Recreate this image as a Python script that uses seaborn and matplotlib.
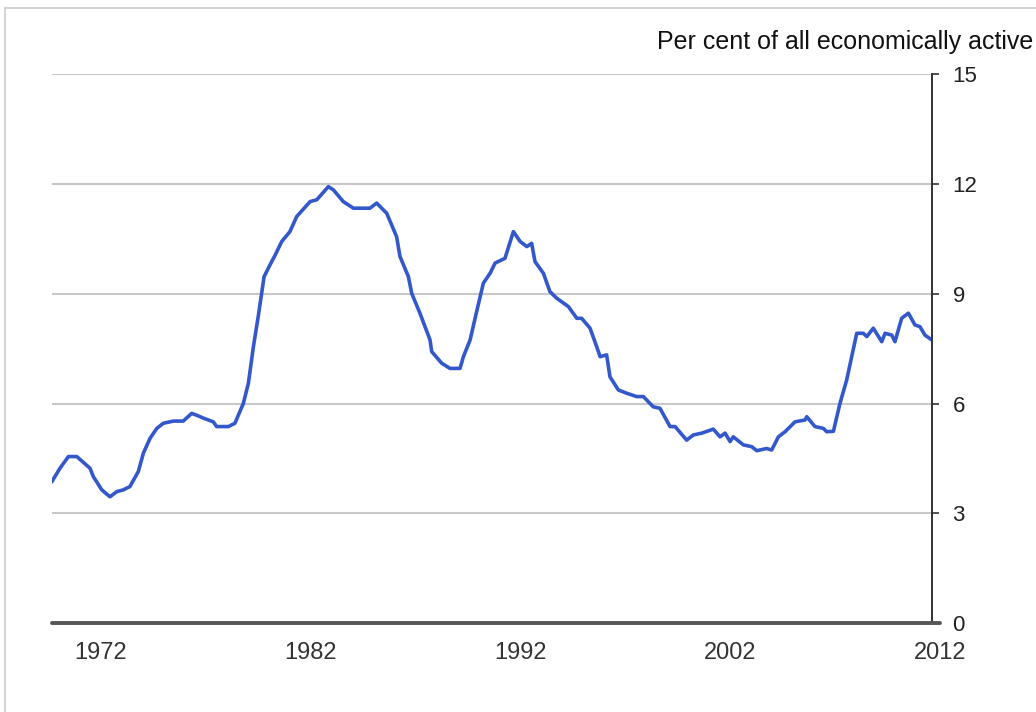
import pandas as pd
import matplotlib.pyplot as plt
import seaborn as sns
from matplotlib.lines import Line2D

# Seaborn style first, fonts after (set_theme resets font.family)
sns.set_theme(style="white")
plt.rcParams['font.family'] = ['Liberation Sans', 'DejaVu Sans']

# Unemployment rate (x in the chart's own year scale)
years = [1969.68, 1970.07, 1970.47, 1970.87, 1971.50, 1971.66, 1972.06, 1972.45, 1972.77, 1973.09,
         1973.40, 1973.80, 1974.04, 1974.36, 1974.68, 1974.99, 1975.47, 1975.94, 1976.34, 1976.58,
         1976.90, 1977.37, 1977.53, 1978.09, 1978.40, 1978.80, 1979.04, 1979.28, 1979.51, 1979.79,
         1980.07, 1980.31, 1980.63, 1981.02, 1981.34, 1981.98, 1982.30, 1982.85, 1983.09, 1983.56,
         1984.04, 1984.83, 1985.15, 1985.63, 1986.10, 1986.26, 1986.66, 1986.82, 1987.21, 1987.69,
         1987.77, 1988.25, 1988.64, 1989.12, 1989.28, 1989.60, 1989.93, 1990.23, 1990.55, 1990.79,
         1991.26, 1991.66, 1991.98, 1992.30, 1992.53, 1992.69, 1993.09, 1993.40, 1993.72, 1994.28,
         1994.68, 1994.91, 1995.31, 1995.63, 1995.79, 1996.10, 1996.26, 1996.66, 1997.06, 1997.53,
         1997.85, 1998.32, 1998.64, 1999.12, 1999.36, 1999.91, 2000.23, 2000.63, 2001.18, 2001.50,
         2001.74, 2001.98, 2002.13, 2002.61, 2003.01, 2003.25, 2003.72, 2003.96, 2004.28, 2004.60,
         2005.07, 2005.55, 2005.63, 2006.02, 2006.42, 2006.58, 2006.90, 2007.21, 2007.53, 2008.01,
         2008.32, 2008.49, 2008.80, 2009.20, 2009.36, 2009.68, 2009.83, 2010.15, 2010.47, 2010.78,
         2011.02, 2011.26, 2011.58]
rate = [3.86, 4.23, 4.55, 4.55, 4.23, 4.00, 3.64, 3.45, 3.59, 3.64,
        3.73, 4.14, 4.64, 5.05, 5.32, 5.46, 5.52, 5.52, 5.73, 5.68,
        5.60, 5.50, 5.37, 5.37, 5.46, 6.00, 6.55, 7.55, 8.38, 9.47,
        9.79, 10.05, 10.43, 10.70, 11.11, 11.52, 11.57, 11.93, 11.84, 11.52,
        11.34, 11.34, 11.48, 11.20, 10.56, 10.02, 9.47, 9.01, 8.47, 7.74,
        7.42, 7.10, 6.96, 6.96, 7.28, 7.74, 8.56, 9.29, 9.56, 9.84,
        9.97, 10.70, 10.43, 10.29, 10.38, 9.88, 9.56, 9.06, 8.88, 8.65,
        8.33, 8.33, 8.06, 7.55, 7.28, 7.33, 6.73, 6.37, 6.28, 6.19,
        6.19, 5.91, 5.87, 5.37, 5.37, 5.00, 5.14, 5.19, 5.30, 5.09,
        5.19, 4.96, 5.09, 4.87, 4.82, 4.71, 4.77, 4.73, 5.09, 5.23,
        5.50, 5.55, 5.64, 5.37, 5.32, 5.23, 5.24, 6.00, 6.64, 7.92,
        7.92, 7.83, 8.06, 7.69, 7.92, 7.87, 7.69, 8.33, 8.47, 8.15,
        8.10, 7.87, 7.74]

x_tick_years = [1972, 1982, 1992, 2002, 2012]
y_ticks = [0, 3, 6, 9, 12, 15]
unit_label = 'Per cent of all economically active'

df = pd.DataFrame({'year': years, 'rate': rate})

fig = plt.figure(figsize=(10.36, 7.12), dpi=100)
ax = fig.add_axes([52 / 1036, 89 / 712, (931.7 - 52) / 1036, (623 - 74.3) / 712])

sns.lineplot(data=df, x='year', y='rate', color='#3358cc', linewidth=2.6, ax=ax)

ax.set_xlim(1969.69, 2011.58)
ax.set_ylim(0, 15)
ax.set_xlabel('')
ax.set_ylabel('')

# Right-hand value axis
ax.yaxis.tick_right()
ax.set_yticks(y_ticks)
ax.set_yticklabels([str(t) for t in y_ticks])
ax.tick_params(axis='y', right=True, direction='out', length=5, width=1.2,
               color='#333333', pad=10, labelsize=16, labelcolor='#222222')
ax.yaxis.grid(True, color='#c8c8c8', linewidth=1.5)
ax.set_axisbelow(True)

for side in ['top', 'left', 'bottom']:
    ax.spines[side].set_visible(False)
ax.spines['right'].set_color('#333333')
ax.spines['right'].set_linewidth(1.4)

# Dark baseline at zero, running out to the tick marks
ax.axhline(0, xmin=0, xmax=1.009, color='#555555', linewidth=2.8, clip_on=False, zorder=3)

# Year labels (the last one sits just past the end of the line)
ax.set_xticks([])
for yr in x_tick_years:
    ax.text(yr, -0.055, str(yr), transform=ax.get_xaxis_transform(),
            ha='center', va='center', fontsize=17, color='#333333', clip_on=False)

fig.text(1033 / 1036, 1 - 42 / 712, unit_label, ha='right', va='center',
         fontsize=18, color='#111111')

# Light frame on the left and top edges
fig.add_artist(Line2D([4.5 / 1036, 4.5 / 1036], [0, 1 - 8 / 712],
                      transform=fig.transFigure, color='#cccccc', linewidth=1.2))
fig.add_artist(Line2D([4.5 / 1036, 1], [1 - 8 / 712, 1 - 8 / 712],
                      transform=fig.transFigure, color='#cccccc', linewidth=1.2))

fig.savefig('out.png', dpi=100)
